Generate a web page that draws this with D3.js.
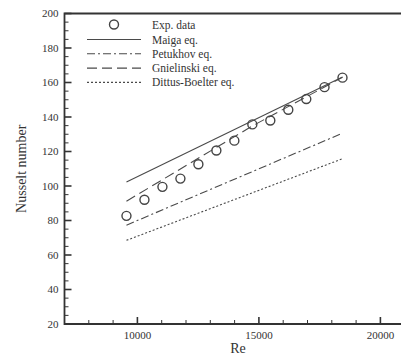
<!DOCTYPE html>
<html>
<head>
<meta charset="utf-8">
<script src="https://cdn.jsdelivr.net/npm/d3@7"></script>
<style>
  body { margin: 0; background: #fff; }
  svg text { font-family: "Liberation Serif", "Times New Roman", serif; fill: #333; }
</style>
</head>
<body>
<svg id="canvas" width="401" height="359"></svg>
<script>
// Data
const expRe = [9550, 10290, 11030, 11770, 12510, 13250, 13990, 14730, 15470, 16210, 16950, 17700, 18440];
const expNu = [82.7, 92, 99.5, 104.3, 112.6, 120.6, 126.3, 135.7, 138, 144.2, 150.4, 157.3, 162.8];

const maigaRe = [9550, 18440];
const maigaNu = [102.3, 163.2];
const petukhovRe = [9550, 18440];
const petukhovNu = [77.3, 130.6];
const gnielinskiRe = [9550, 14730, 18440];
const gnielinskiNu = [91.2, 134.8, 163];
const dittusRe = [9550, 18440];
const dittusNu = [68.5, 115.8];

const xMajor = [10000, 15000, 20000];
const yMajor = [20, 40, 60, 80, 100, 120, 140, 160, 180, 200];

const svg = d3.select("#canvas");

// Scales (frame runs off the right edge, as in the reference)
const x = d3.scaleLinear().domain([7000, 22000]).range([64.5, 429]);
const y = d3.scaleLinear().domain([20, 200]).range([324, 13.5]);

const ink = "#333";
const lineInk = "#4a4a4a";

// Minor + major ticks, y (inward)
const yMinor = d3.range(20, 200.01, 5);
svg.selectAll(".ytick")
  .data(yMinor)
  .enter()
  .append("line")
  .attr("x1", x(7000))
  .attr("x2", d => x(7000) + (d % 20 === 0 ? 7 : 4))
  .attr("y1", d => y(d))
  .attr("y2", d => y(d))
  .attr("stroke", ink)
  .attr("stroke-width", d => d % 20 === 0 ? 1.6 : 1);

svg.selectAll(".ylab")
  .data(yMajor)
  .enter()
  .append("text")
  .attr("x", x(7000) - 6)
  .attr("y", d => y(d) + 3.5)
  .attr("text-anchor", "end")
  .attr("font-size", 11)
  .text(d => d);

// x ticks (inward, upward)
const xMinor = d3.range(7000, 22001, 1000);
svg.selectAll(".xtick")
  .data(xMinor)
  .enter()
  .append("line")
  .attr("x1", d => x(d))
  .attr("x2", d => x(d))
  .attr("y1", y(20))
  .attr("y2", d => y(20) - (d % 5000 === 0 ? 7 : 4))
  .attr("stroke", ink)
  .attr("stroke-width", d => d % 5000 === 0 ? 1.6 : 1);

svg.selectAll(".xlab")
  .data(xMajor)
  .enter()
  .append("text")
  .attr("x", d => x(d))
  .attr("y", y(20) + 15)
  .attr("text-anchor", "middle")
  .attr("font-size", 11)
  .text(d => d);

// Frame
svg.append("path")
  .attr("d", `M${x(22000)},${y(200)}H${x(7000)}V${y(20)}H${x(22000)}`)
  .attr("fill", "none")
  .attr("stroke", ink)
  .attr("stroke-width", 1.8);

// Axis titles
svg.append("text")
  .attr("x", 238)
  .attr("y", 353)
  .attr("text-anchor", "middle")
  .attr("font-size", 14)
  .text("Re");

svg.append("text")
  .attr("transform", `translate(26,${(y(20) + y(200)) / 2}) rotate(-90)`)
  .attr("text-anchor", "middle")
  .attr("font-size", 14)
  .text("Nusselt number");

// Correlation lines
const line = d3.line().x(d => x(d[0])).y(d => y(d[1]));
const series = [
  { name: "Maiga eq.", re: maigaRe, nu: maigaNu, dash: null },
  { name: "Petukhov eq.", re: petukhovRe, nu: petukhovNu, dash: "8,3,2,3" },
  { name: "Gnielinski eq.", re: gnielinskiRe, nu: gnielinskiNu, dash: "10,5" },
  { name: "Dittus-Boelter eq.", re: dittusRe, nu: dittusNu, dash: "2,2" }
];

series.forEach(s => {
  svg.append("path")
    .datum(s.re.map((r, i) => [r, s.nu[i]]))
    .attr("d", line)
    .attr("fill", "none")
    .attr("stroke", lineInk)
    .attr("stroke-width", 1.1)
    .attr("stroke-dasharray", s.dash);
});

// Experimental points
svg.selectAll(".exp")
  .data(expRe.map((r, i) => [r, expNu[i]]))
  .enter()
  .append("circle")
  .attr("cx", d => x(d[0]))
  .attr("cy", d => y(d[1]))
  .attr("r", 4.5)
  .attr("fill", "none")
  .attr("stroke", "#444")
  .attr("stroke-width", 1.4);

// Legend
const legend = svg.append("g");
legend.append("circle")
  .attr("cx", 114)
  .attr("cy", 24.5)
  .attr("r", 4.5)
  .attr("fill", "none")
  .attr("stroke", "#444")
  .attr("stroke-width", 1.4);
legend.append("text")
  .attr("x", 152)
  .attr("y", 28.5)
  .attr("font-size", 11.5)
  .text("Exp. data");

series.forEach((s, i) => {
  const ly = 39.5 + i * 14.3;
  legend.append("line")
    .attr("x1", 87)
    .attr("x2", 141)
    .attr("y1", ly)
    .attr("y2", ly)
    .attr("stroke", lineInk)
    .attr("stroke-width", 1.1)
    .attr("stroke-dasharray", s.dash);
  legend.append("text")
    .attr("x", 152)
    .attr("y", ly + 4)
    .attr("font-size", 11.5)
    .text(s.name);
});
</script>
</body>
</html>
